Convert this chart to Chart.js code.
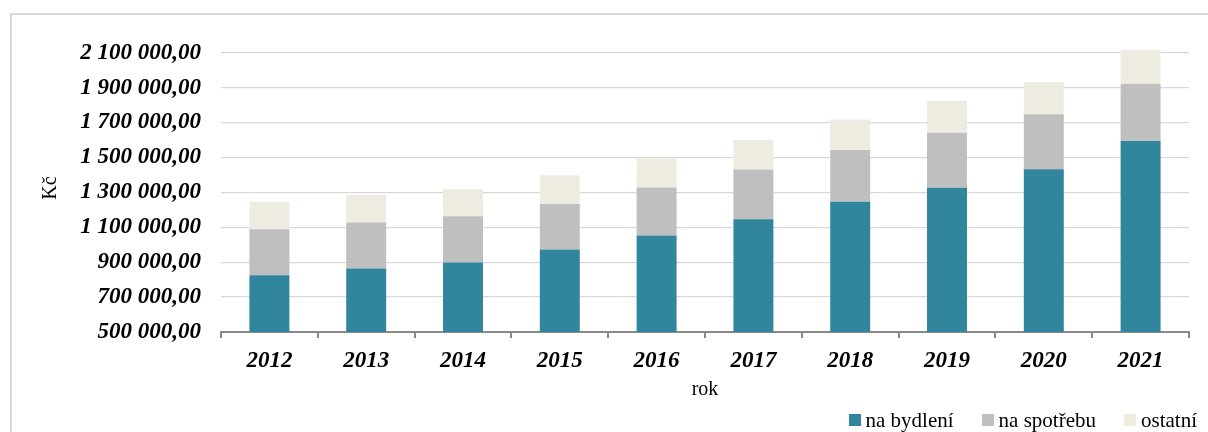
<!DOCTYPE html>
<html>
<head>
<meta charset="utf-8">
<script src="https://cdn.jsdelivr.net/npm/chart.js@4/dist/chart.umd.min.js"></script>
<style>
  body { margin: 0; background: #fff; }
  #wrap { position: relative; width: 1208px; height: 432px; overflow: hidden; }
  #frame { position: absolute; left: 10px; top: 13px; width: 1300px; height: 500px;
           border-left: 2px solid #d9d9d9; border-top: 2px solid #d9d9d9; }
  #legend { position: absolute; right: 11px; top: 408px; display: flex; align-items: center;
            font: 21px "Liberation Serif", "Times New Roman", serif; color: #000; line-height: 24px; }
  #legend span.item { display: flex; align-items: center; margin-left: 28px; }
  #legend span.box { width: 12px; height: 12px; margin-right: 5px; display: inline-block; }
</style>
</head>
<body>
<div id="wrap">
  <div id="frame"></div>
  <canvas id="chart" width="1208" height="432"></canvas>
  <div id="legend"></div>
</div>
<script>
/* values (Kč) */
const years = ["2012", "2013", "2014", "2015", "2016", "2017", "2018", "2019", "2020", "2021"];
const naBydleni = [825000, 864000, 898000, 973000, 1053000, 1146000, 1246000, 1326000, 1433000, 1594000];
const naSpotrebu = [264000, 264000, 265000, 260000, 275000, 285000, 296000, 315000, 314000, 328000];
const ostatni = [157000, 157000, 155000, 165000, 166000, 170000, 176000, 182000, 185000, 195000];
const yTicks = [500000, 700000, 900000, 1100000, 1300000, 1500000, 1700000, 1900000, 2100000];

const seriesLabels = ["na bydlení", "na spotřebu", "ostatní"];
const seriesColors = ["#31869d", "#bfbfbf", "#eeece1"];

const tickFont = { family: "'Liberation Serif', 'Times New Roman', serif", size: 23, style: "italic", weight: "bold" };
const titleFont = { family: "'Liberation Serif', 'Times New Roman', serif", size: 20 };

function fmt(v) {
  return String(v).replace(/\B(?=(\d{3})+(?!\d))/g, " ") + ",00";
}

const series = [naBydleni, naSpotrebu, ostatni];

const config = {
  type: "bar",
  data: {
    labels: years,
    datasets: series.map((d, i) => ({
      label: seriesLabels[i],
      data: d,
      backgroundColor: seriesColors[i],
      borderWidth: 0,
      categoryPercentage: 1,
      barPercentage: 0.413,
    })),
  },
  options: {
    responsive: false,
    animation: false,
    layout: {
      padding: { left: 39, right: 19, top: 44, bottom: 0 },
    },
    scales: {
      x: {
        stacked: true,
        grid: {
          offset: true,
          drawOnChartArea: false,
          drawTicks: true,
          tickLength: 6,
          color: "#898989",
          lineWidth: 2,
        },
        border: { display: true, color: "#898989", width: 2 },
        ticks: { color: "#000", font: tickFont, padding: 9, maxRotation: 0 },
        title: { display: true, text: "rok", color: "#000", font: titleFont, padding: { top: 0, bottom: 30 } },
        afterFit: (scale) => { scale.height = 100; },
      },
      y: {
        stacked: true,
        min: 500000,
        max: 2150000,
        afterBuildTicks: (scale) => {
          scale.ticks = yTicks.map((v) => ({ value: v }));
        },
        grid: {
          drawTicks: false,
          color: (ctx) => (ctx.tick && ctx.tick.value === 500000 ? "#898989" : "#d9d9d9"),
          lineWidth: (ctx) => (ctx.tick && ctx.tick.value === 500000 ? 2 : 1.3),
        },
        border: { display: false },
        ticks: { color: "#000", font: tickFont, padding: 20, callback: (v) => fmt(v) },
        title: { display: true, text: "Kč", color: "#000", font: titleFont, padding: { top: 0, bottom: 0 } },
        afterFit: (scale) => { scale.width = 182; },
      },
    },
    plugins: {
      legend: { display: false },
      title: { display: false },
      tooltip: { enabled: false },
    },
  },
};

const chart = new Chart(document.getElementById("chart"), config);

/* legend built from the same series */
const legend = document.getElementById("legend");
seriesLabels.forEach((lbl, i) => {
  const item = document.createElement("span");
  item.className = "item";
  if (i === 0) item.style.marginLeft = "0";
  const box = document.createElement("span");
  box.className = "box";
  box.style.background = seriesColors[i];
  item.appendChild(box);
  item.appendChild(document.createTextNode(lbl));
  legend.appendChild(item);
});
</script>
</body>
</html>
